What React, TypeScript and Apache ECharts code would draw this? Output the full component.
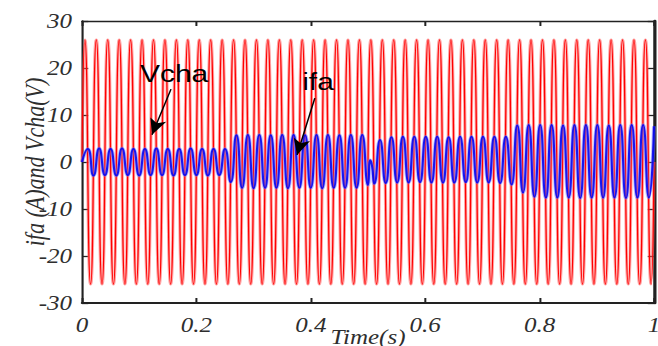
import React, { useEffect, useRef } from "react";
import * as echarts from "echarts";

// ---- data (50 Hz waveforms, extrema every half-period) ----
const HALF_PERIOD = 0.01; // s

// Vcha (V): value at every crest / trough, first crest at 5 ms
const vchaFirstCrest = 0.005;
const vchaExtrema = [
  26, -26, 26, -26, 26, -26, 26, -26, 26, -26,
  26, -26, 26, -26, 26, -26, 26, -26, 26, -26,
  26, -26, 26, -26, 26, -26, 26, -26, 26, -26,
  26, -26, 26, -26, 26, -26, 26, -26, 26, -26,
  26, -26, 26, -26, 26, -26, 26, -26, 26, -26,
  26, -26, 26, -26, 26, -26, 26, -26, 26, -26,
  26, -26, 26, -26, 26, -26, 26, -26, 26, -26,
  26, -26, 26, -26, 26, -26, 26, -26, 26, -26,
  26, -26, 26, -26, 26, -26, 26, -26, 26, -26,
  26, -26, 26, -26, 26, -26, 26, -26, 26, -26,
];
const vchaStartPoint = [0, 0];
const vchaEndPoint = [1, 0];

// ifa (A): crest / trough values, in four stretches
const ifaStartPoint = [0, 0];
const ifaSeg1Start = 0.01;
const ifaSeg1 = [
  2.8, -2.9, 2.9, -2.8, 2.8, -2.9, 2.9, -2.8, 2.8, -2.9, 2.8, -2.8, 2.9,
  -2.8, 2.8, -2.9, 2.8, -2.8, 2.9, -2.8, 2.8, -2.9, 2.8, -2.8, 2.8,
];
const ifaSeg2Start = 0.26;
const ifaSeg2 = [
  -4.3, 5.7, -5.5, 5.8, -5.6, 5.8, -5.5, 5.7, -5.5, 5.8, -5.6, 5.8, -5.5,
  5.7, -5.5, 5.8, -5.6, 5.8, -5.5, 5.7, -5.5, 5.8, -5.5, 5.8, -4.9,
];
const ifaTransient = [
  [0.504, 0.4],
  [0.507, -0.8],
];
const ifaSeg3Start = 0.511;
const ifaSeg3 = [
  -4.6, 4.7, -4.5, 5.3, -4.4, 5.4, -4.4, 5.4, -4.3, 5.4, -4.4, 5.4, -4.4,
  5.3, -4.4, 5.4, -4.3, 5.4, -4.4, 5.4, -4.4, 5.4, -4.5, 5.4, -4.8,
];
const ifaSeg4Start = 0.761;
const ifaSeg4 = [
  7.8, -6.5, 7.9, -7.4, 7.9, -7.6, 7.9, -7.6, 7.8, -7.6, 7.9, -7.7,
  7.9, -7.6, 7.9, -7.6, 7.8, -7.6, 7.9, -7.7, 7.9, -7.6, 7.9, -7.6,
];
const ifaEndPoint = [1, 7.6];

// axes
const xTickLabels = ["0", "0.2", "0.4", "0.6", "0.8", "1"];
const yTickLabels = ["-30", "-20", "-10", "0", "10", "20", "30"];

// annotations (data space): label centre, arrow start, arrow tip
const vchaNote = { text: "Vcha", at: [0.161, 18.8], from: [0.1556, 15.5], to: [0.1224, 5.8] };
const ifaNote = { text: "ifa", at: [0.4126, 17.2], from: [0.407, 13.6], to: [0.376, 1.5] };

// ---- helpers ----
const seg = (start: number, vals: number[]) =>
  vals.map((v, i) => [+(start + i * HALF_PERIOD).toFixed(4), v]);

const vchaData = [vchaStartPoint, ...seg(vchaFirstCrest, vchaExtrema), vchaEndPoint];
const ifaData = [
  ifaStartPoint,
  ...seg(ifaSeg1Start, ifaSeg1),
  ...seg(ifaSeg2Start, ifaSeg2),
  ...ifaTransient,
  ...seg(ifaSeg3Start, ifaSeg3),
  ...seg(ifaSeg4Start, ifaSeg4),
  ifaEndPoint,
];

const PAGE_W = 658;
const PAGE_H = 346;
const CHART_W = 526; // the original figure is stretched horizontally
const SX = PAGE_W / CHART_W;

const AXIS = "#222";
const serif = "Liberation Serif";
const labelStyle = {
  fontFamily: serif,
  fontStyle: "italic" as const,
  fontSize: 20,
  color: "#2e2e2e",
};

export default function App() {
  const ref = useRef<HTMLDivElement>(null);
  useEffect(() => {
    if (!ref.current) return;
    const chart = echarts.init(ref.current, undefined, { renderer: "svg" });
    const lineBase = {
      type: "line" as const,
      smooth: 0.6,
      symbol: "none",
      showSymbol: false,
      silent: true,
      emphasis: { disabled: true },
      xAxisIndex: 0,
      yAxisIndex: 0,
    };
    chart.setOption({
      animation: false,
      backgroundColor: "#fff",
      grid: {
        left: 82 / SX,
        width: 572 / SX,
        top: 21,
        height: 282,
        containLabel: false,
        outerBoundsMode: "none",
      },
      xAxis: [
        {
          type: "value",
          min: 0,
          max: 1,
          interval: 0.2,
          position: "bottom",
          axisLine: { show: true, onZero: false, lineStyle: { color: AXIS, width: 2 } },
          axisTick: { show: true, inside: true, length: 5, lineStyle: { color: AXIS, width: 1.6 } },
          axisLabel: {
            ...labelStyle,
            margin: 12,
            formatter: (v: number) => xTickLabels[Math.round(v / 0.2)],
          },
          splitLine: { show: false },
          name: "Time(s)",
          nameLocation: "middle",
          nameGap: 24,
          nameMoveOverlap: false,
          nameTextStyle: { ...labelStyle, fontSize: 20 },
        },
        {
          type: "value",
          min: 0,
          max: 1,
          interval: 0.2,
          position: "top",
          axisLine: { show: true, onZero: false, lineStyle: { color: AXIS, width: 1.3 } },
          axisTick: { show: true, inside: true, length: 5, lineStyle: { color: AXIS, width: 1.6 } },
          axisLabel: { show: false },
          splitLine: { show: false },
        },
      ],
      yAxis: [
        {
          type: "value",
          min: -30,
          max: 30,
          interval: 10,
          position: "left",
          axisLine: { show: true, onZero: false, lineStyle: { color: AXIS, width: 1.7 } },
          axisTick: { show: true, inside: true, length: 5, lineStyle: { color: AXIS, width: 1.3 } },
          axisLabel: {
            ...labelStyle,
            margin: 8,
            formatter: (v: number) => yTickLabels[Math.round((v + 30) / 10)],
          },
          splitLine: { show: false },
          name: "ifa (A)and Vcha(V)",
          nameLocation: "middle",
          nameGap: 27,
          nameMoveOverlap: false,
          nameTextStyle: { ...labelStyle, fontSize: 22 },
        },
        {
          type: "value",
          min: -30,
          max: 30,
          interval: 10,
          position: "right",
          axisLine: { show: true, onZero: false, lineStyle: { color: AXIS, width: 2.6 } },
          axisTick: { show: true, inside: true, length: 5, lineStyle: { color: AXIS, width: 1.3 } },
          axisLabel: { show: false },
          splitLine: { show: false },
        },
      ],
      series: [
        {
          ...lineBase,
          name: "Vcha halo",
          data: vchaData,
          lineStyle: { color: "rgba(255,90,90,0.55)", width: 2.6 },
          z: 1,
        },
        {
          ...lineBase,
          name: "Vcha",
          data: vchaData,
          lineStyle: { color: "#ff0000", width: 1 },
          z: 2,
        },
        {
          ...lineBase,
          name: "ifa halo",
          data: ifaData,
          lineStyle: { color: "rgba(120,120,255,0.5)", width: 3.2 },
          z: 3,
        },
        {
          ...lineBase,
          name: "ifa",
          data: ifaData,
          lineStyle: { color: "#0000f0", width: 1.7, opacity: 0.88 },
          z: 4,
          markLine: {
            silent: true,
            animation: false,
            symbol: ["none", "arrow"],
            symbolSize: [10, 16],
            label: { show: false },
            emphasis: { disabled: true },
            lineStyle: { color: "#000", width: 1.2, type: "solid" },
            data: [
              [{ coord: vchaNote.from }, { coord: vchaNote.to }],
              [{ coord: ifaNote.from }, { coord: ifaNote.to }],
            ],
          },
          markPoint: {
            silent: true,
            animation: false,
            symbol: "rect",
            symbolSize: 1,
            itemStyle: { color: "rgba(0,0,0,0)" },
            label: {
              show: true,
              position: "inside",
              formatter: "{b}",
              fontFamily: "Liberation Sans",
              fontSize: 24,
              color: "#000",
            },
            data: [
              { name: vchaNote.text, coord: vchaNote.at },
              { name: ifaNote.text, coord: ifaNote.at },
            ],
          },
        },
      ],
    });
    return () => chart.dispose();
  }, []);

  return (
    <div
      style={{
        position: "fixed",
        left: 0,
        top: 0,
        width: PAGE_W,
        height: PAGE_H,
        overflow: "hidden",
        background: "#fff",
      }}
    >
      <div
        ref={ref}
        style={{
          position: "absolute",
          left: 0,
          top: 0,
          width: CHART_W,
          height: PAGE_H,
          transform: `scaleX(${SX})`,
          transformOrigin: "0 0",
        }}
      />
    </div>
  );
}
